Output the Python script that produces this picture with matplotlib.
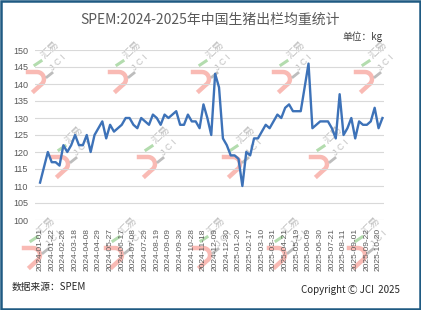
import matplotlib
matplotlib.use("Agg")
import numpy as np
import matplotlib.pyplot as plt
from matplotlib.lines import Line2D
from matplotlib.patches import Rectangle

plt.rcParams['font.family'] = ['Noto Sans CJK SC', 'DejaVu Sans']

# ---- data ----
tick_labels = ["2024-01-01", "2024-01-22", "2024-02-26", "2024-03-18", "2024-04-08",
               "2024-04-29", "2024-05-27", "2024-06-17", "2024-07-08", "2024-07-29",
               "2024-08-19", "2024-09-09", "2024-09-30", "2024-10-28", "2024-11-18",
               "2024-12-09", "2024-12-30", "2025-01-20", "2025-02-17", "2025-03-10",
               "2025-03-31", "2025-04-21", "2025-05-19", "2025-06-09", "2025-06-30",
               "2025-07-21", "2025-08-11", "2025-09-01", "2025-09-22", "2025-10-20"]
weights = [111, 115.5, 120, 117, 117, 116, 122, 120, 122, 125,
           122, 122, 125, 120, 125, 127, 129, 124, 128, 126,
           127, 128, 130, 130, 128, 127, 130, 129, 128, 131,
           130, 128, 131, 130, 131, 132, 128, 128, 131, 129,
           129, 127, 134, 130, 125, 143, 139, 124, 122, 119,
           119, 118, 110, 120, 119, 124, 124, 126, 128, 127,
           129, 131, 130, 133, 134, 132, 132, 132, 139, 146,
           127, 128, 129, 129, 129, 127, 124, 137, 125, 127,
           130, 124, 129, 128, 128, 129, 133, 127, 130]
y_ticks = [100, 105, 110, 115, 120, 125, 130, 135, 140, 145, 150]

W, H = 421, 310
fig = plt.figure(figsize=(W / 100, H / 100), dpi=100)
fig.patch.set_facecolor('white')


def fx(x):
    return x / W


def fy(y):
    return 1 - y / H


# axes placement (pixels)
left, right, top, bottom = 35, 384, 50, 220
ax = fig.add_axes([fx(left), fy(bottom), fx(right) - fx(left), fy(top) - fy(bottom)])
ax.set_facecolor('none')

x = list(range(len(weights)))
ax.plot(x, weights, color='#3d72b8', lw=1.7, solid_joinstyle='round', zorder=3)

ax.set_ylim(100, 150)
ax.set_yticks(y_ticks)
ax.set_xlim(-1.3, len(weights) - 0.6)
ax.set_xticks(list(range(0, len(weights), 3))[:len(tick_labels)])
ax.set_xticklabels(tick_labels, rotation=90, fontsize=6, color='#595959',
                   family=['Liberation Sans', 'DejaVu Sans'])
ax.tick_params(axis='x', length=0, pad=6)
ax.tick_params(axis='y', length=0, pad=5, labelsize=6.5, labelcolor='#595959')
for lab in ax.get_yticklabels():
    lab.set_family(['Liberation Sans', 'DejaVu Sans'])
ax.grid(axis='y', color='#d9d9d9', lw=0.8)
ax.set_axisbelow(True)
for s in ax.spines.values():
    s.set_visible(False)

# titles and notes
fig.text(0.5, fy(20), "SPEM:2024-2025年中国生猪出栏均重统计", ha='center', va='center',
         fontsize=10, color='#595959')
fig.text(fx(383), fy(37), "单位：kg", ha='right', va='center', fontsize=7, color='#404040')
fig.text(fx(12), fy(287), "数据来源：SPEM", ha='left', va='center', fontsize=7, color='#262626')
fig.text(fx(400), fy(290), "Copyright Ⓒ JCI  2025", ha='right', va='center', fontsize=7,
         color='#262626')


# watermarks (decoration)
def watermark(cx, cy):
    ang = np.linspace(np.pi / 2, -np.pi / 3, 12)
    hx = [cx - 8] + list(cx + 1 + 7 * np.cos(ang)) + [cx - 2]
    hy = [cy - 8] + list(cy - 1 - 7 * np.sin(ang)) + [cy + 11]
    fig.add_artist(Line2D([fx(v) for v in hx], [fy(v) for v in hy],
                          transform=fig.transFigure, color='#f9bab4', lw=3.2,
                          solid_joinstyle='round', zorder=-1))
    fig.add_artist(Line2D([fx(cx - 1), fx(cx + 5)], [fy(cy - 15), fy(cy - 19)],
                          transform=fig.transFigure, color='#b3dcae', lw=2.2, zorder=-1))
    fig.add_artist(Line2D([fx(cx + 11), fx(cx + 16)], [fy(cy - 3), fy(cy - 7)],
                          transform=fig.transFigure, color='#bdbdbd', lw=2.0, zorder=-1))
    fig.text(fx(cx + 14), fy(cy - 30), "汇易", rotation=45, ha='center', va='center',
             fontsize=7.5, color='#c0c0c0', zorder=-1)
    fig.text(fx(cx + 22), fy(cy - 17), "J C I", rotation=45, ha='center', va='center',
             fontsize=6.5, color='#c0c0c0', zorder=-1,
             family=['Liberation Sans', 'DejaVu Sans'])


for cx in [36, 118, 201, 282, 364]:
    watermark(cx, 80)
for cx in [60, 147, 232, 319]:
    watermark(cx, 165)
for cx in [32, 114, 202, 277, 357]:
    watermark(cx, 256)

# border
fig.add_artist(Rectangle((0.002, 0.003), 0.995, 0.994, transform=fig.transFigure,
                         fill=False, edgecolor='#1f5a82', lw=1.8, zorder=10))

fig.savefig("out.png", dpi=100)
